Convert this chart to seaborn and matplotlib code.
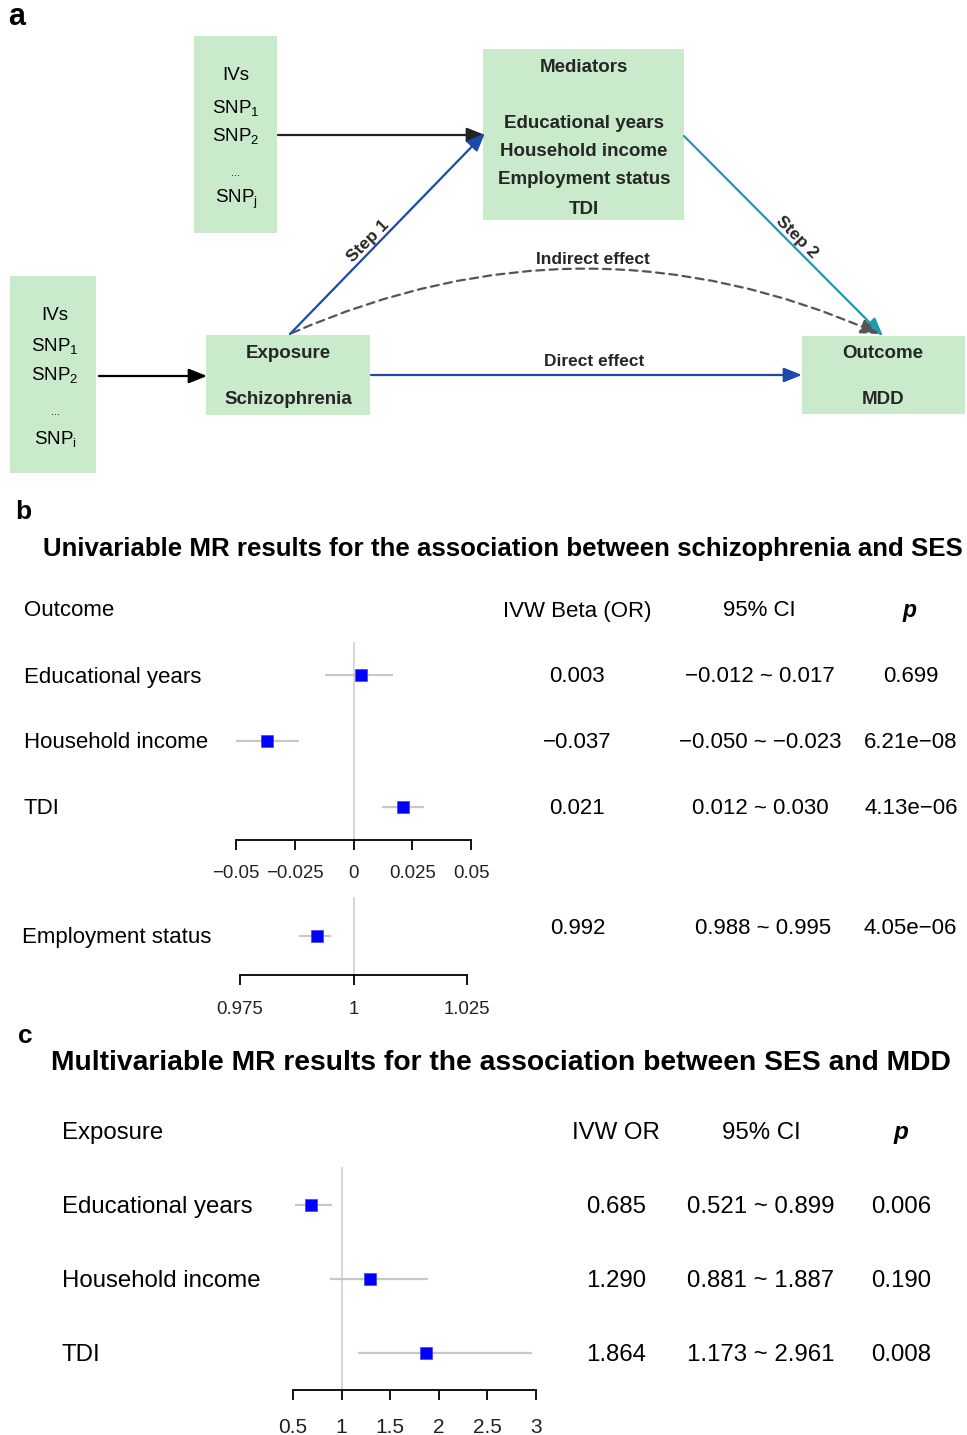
import numpy as np
import pandas as pd
import seaborn as sns
import matplotlib.pyplot as plt
from matplotlib.patches import Rectangle, FancyArrowPatch

# ---- data -------------------------------------------------------------
uni_outcomes = ["Educational years", "Household income", "TDI"]
uni_beta = [0.003, -0.037, 0.021]
uni_lo = [-0.012, -0.050, 0.012]
uni_hi = [0.017, -0.023, 0.030]
uni_p = ["0.699", "6.21e\u221208", "4.13e\u221206"]

emp_outcome = ["Employment status"]
emp_or = [0.992]
emp_lo = [0.988]
emp_hi = [0.995]
emp_p = ["4.05e\u221206"]

mv_exposures = ["Educational years", "Household income", "TDI"]
mv_or = [0.685, 1.290, 1.864]
mv_lo = [0.521, 0.881, 1.173]
mv_hi = [0.899, 1.887, 2.961]
mv_p = ["0.006", "0.190", "0.008"]

uni_ticks = [-0.05, -0.025, 0, 0.025, 0.05]
uni_ticklabels = ["\u22120.05", "\u22120.025", "0", "0.025", "0.05"]
emp_ticks = [0.975, 1, 1.025]
emp_ticklabels = ["0.975", "1", "1.025"]
mv_ticks = [0.5, 1, 1.5, 2, 2.5, 3]
mv_ticklabels = ["0.5", "1", "1.5", "2", "2.5", "3"]

# ---- style ------------------------------------------------------------
sns.set_theme(style="white")
plt.rcParams["font.family"] = ["Liberation Sans", "DejaVu Sans"]
plt.rcParams["mathtext.fontset"] = "custom"
plt.rcParams["mathtext.rm"] = "Liberation Sans"
plt.rcParams["mathtext.it"] = "Liberation Sans:italic"
plt.rcParams["mathtext.bf"] = "Liberation Sans:bold"

W, H = 967, 1435
DY = 2  # small downward nudge so text centres sit like the reference
BOX = "#C9EACB"
TXT = "#262626"
BLUE = "#1B4BAA"
TEAL = "#2198AC"
DASH = "#555555"
MARK = "#0000FF"
CI_GREY = "#C8C8C8"

fig = plt.figure(figsize=(W / 100, H / 100), dpi=100)
ax0 = fig.add_axes([0, 0, 1, 1])
ax0.set_xlim(0, W)
ax0.set_ylim(H, 0)
ax0.axis("off")
ax0.patch.set_alpha(0)


def fmt(v):
    return f"{v:.3f}".replace("-", "\u2212")


def txt(x, y, s, size, ha="center", **kw):
    kw.setdefault("color", "black")
    ax0.text(x, y + DY, s, ha=ha, va="center", fontsize=size, **kw)


def box(x0, y0, x1, y1):
    ax0.add_patch(Rectangle((x0, y0), x1 - x0, y1 - y0, facecolor=BOX, edgecolor="none"))


def label(x, y, s, size=13.5, **kw):
    txt(x, y, s, size, fontweight="bold", color=TXT, **kw)


def arrow(p0, p1, color, ls="-", rad=0.0):
    ax0.add_patch(FancyArrowPatch(
        p0, p1, arrowstyle="-|>,head_length=0.55,head_width=0.22", mutation_scale=20,
        color=color, lw=1.6, linestyle=ls, connectionstyle=f"arc3,rad={rad}",
        shrinkA=0, shrinkB=0, zorder=3))


# ---- panel a ----------------------------------------------------------
ax0.text(8, 17, "a", fontsize=22, fontweight="bold", ha="left", va="center", color="black")

box(194, 36, 277, 233)
for y, s in zip([73, 106, 134, 197], ["IVs", "SNP$_\\mathregular{1}$", "SNP$_\\mathregular{2}$",
                                      "SNP$_\\mathregular{j}$"]):
    txt(236, y, s, 13.5)
txt(236, 171, "...", 8)

box(10, 276, 96, 473)
for y, s in zip([313, 344, 373, 437], ["IVs", "SNP$_\\mathregular{1}$", "SNP$_\\mathregular{2}$",
                                       "SNP$_\\mathregular{i}$"]):
    txt(55, y, s, 13.5)
txt(56, 410, "...", 8)

box(483, 49, 684, 220)
for y, s in zip([65, 121, 150, 178, 207],
                ["Mediators", "Educational years", "Household income", "Employment status", "TDI"]):
    label(584, y, s)

box(206, 335, 370, 415)
label(288, 352, "Exposure")
label(288, 398, "Schizophrenia")

box(802, 336, 965, 414)
label(883, 352, "Outcome")
label(883, 397, "MDD")

arrow((278, 135), (485, 135), "#222222")
arrow((99, 376), (207, 376), "black")
arrow((290, 334), (485, 133), BLUE)
arrow((684, 136), (883, 336), TEAL)
arrow((371, 375), (802, 375), BLUE)
arrow((292, 333), (879, 334), DASH, ls=(0, (3.6, 2.4)), rad=-0.22)

label(368, 239, "Step 1", size=12.5, rotation=45)
label(797, 235, "Step 2", size=12.5, rotation=-45)
label(593, 257, "Indirect effect", size=12.5)
label(594, 359, "Direct effect", size=12.5)


# ---- forest helper ----------------------------------------------------
def forest(x0, x1, y0, y1, ylim, est, lo, hi, xlim, ticks, ticklabels, ref, tsize, pad):
    ax = fig.add_axes([x0 / W, 1 - y1 / H, (x1 - x0) / W, (y1 - y0) / H])
    ax.patch.set_alpha(0)
    df = pd.DataFrame({"est": est, "lo": lo, "hi": hi, "pos": np.arange(len(est))})
    ax.axvline(ref, color="#CFCFCF", lw=1.2, zorder=0)
    ax.hlines(df["pos"], df["lo"], df["hi"], color=CI_GREY, lw=1.6, zorder=1)
    sns.scatterplot(data=df, x="est", y="pos", marker="s", s=80, color=MARK,
                    edgecolor="#4040FF", linewidth=0.5, ax=ax, legend=False, zorder=2)
    ax.set_xlim(*xlim)
    ax.set_ylim(*ylim)
    for side in ["left", "top", "right"]:
        ax.spines[side].set_visible(False)
    ax.spines["bottom"].set_color("black")
    ax.spines["bottom"].set_linewidth(1.3)
    ax.set_xticks(ticks)
    ax.set_xticklabels(ticklabels, fontsize=tsize, color="#222222")
    ax.tick_params(axis="x", bottom=True, direction="out", length=7.5, width=1.3,
                   color="black", pad=pad)
    ax.set_yticks([])
    ax.set_xlabel("")
    ax.set_ylabel("")
    return ax


# ---- panel b ----------------------------------------------------------
ax0.text(15, 512, "b", fontsize=19, fontweight="bold", ha="left", va="center", color="black")
txt(503, 547, "Univariable MR results for the association between schizophrenia and SES",
    18.6, fontweight="bold")

hdr_y = 609
txt(24, hdr_y, "Outcome", 16, ha="left")
txt(577, hdr_y, "IVW Beta (OR)", 16)
txt(759, hdr_y, "95% CI", 16)
txt(910, hdr_y, "p", 16.5, fontstyle="italic", fontweight="bold")

row_y = [675, 741, 807]
for y, name, b, l, h, p in zip(row_y, uni_outcomes, uni_beta, uni_lo, uni_hi, uni_p):
    txt(24, y, name, 16, ha="left")
    txt(577, y, fmt(b), 16)
    txt(760, y, f"{fmt(l)} ~ {fmt(h)}", 16)
    txt(911, y, p, 16)

forest(236, 471, 642, 840, (2.5, -0.5), uni_beta, uni_lo, uni_hi, (-0.05, 0.05),
       uni_ticks, uni_ticklabels, 0, 13.4, 10.5)

txt(22, 935, emp_outcome[0], 16, ha="left")
txt(578, 927, fmt(emp_or[0]), 16)
txt(763, 927, f"{fmt(emp_lo[0])} ~ {fmt(emp_hi[0])}", 16)
txt(910, 927, emp_p[0], 16)

forest(240, 467, 897, 975, (0.5, -0.5), emp_or, emp_lo, emp_hi, (0.975, 1.025),
       emp_ticks, emp_ticklabels, 1, 13.4, 11.5)

# ---- panel c ----------------------------------------------------------
ax0.text(18, 1036, "c", fontsize=19, fontweight="bold", ha="left", va="center", color="black")
txt(501, 1061, "Multivariable MR results for the association between SES and MDD",
    20.3, fontweight="bold")

hdr_y = 1131
txt(62, hdr_y, "Exposure", 17.3, ha="left")
txt(616, hdr_y, "IVW OR", 17.3)
txt(761, hdr_y, "95% CI", 17.3)
txt(901, hdr_y, "p", 17.5, fontstyle="italic", fontweight="bold")

row_y = [1205, 1279, 1353]
for y, name, o, l, h, p in zip(row_y, mv_exposures, mv_or, mv_lo, mv_hi, mv_p):
    txt(62, y, name, 17.3, ha="left")
    txt(616, y, fmt(o), 17.3)
    txt(761, y, f"{fmt(l)} ~ {fmt(h)}", 17.3)
    txt(901, y, p, 17.3)

forest(293, 536, 1167, 1390, (2.5, -0.514), mv_or, mv_lo, mv_hi, (0.5, 3),
       mv_ticks, mv_ticklabels, 1, 15, 12.5)

fig.savefig("out.png", dpi=100)
